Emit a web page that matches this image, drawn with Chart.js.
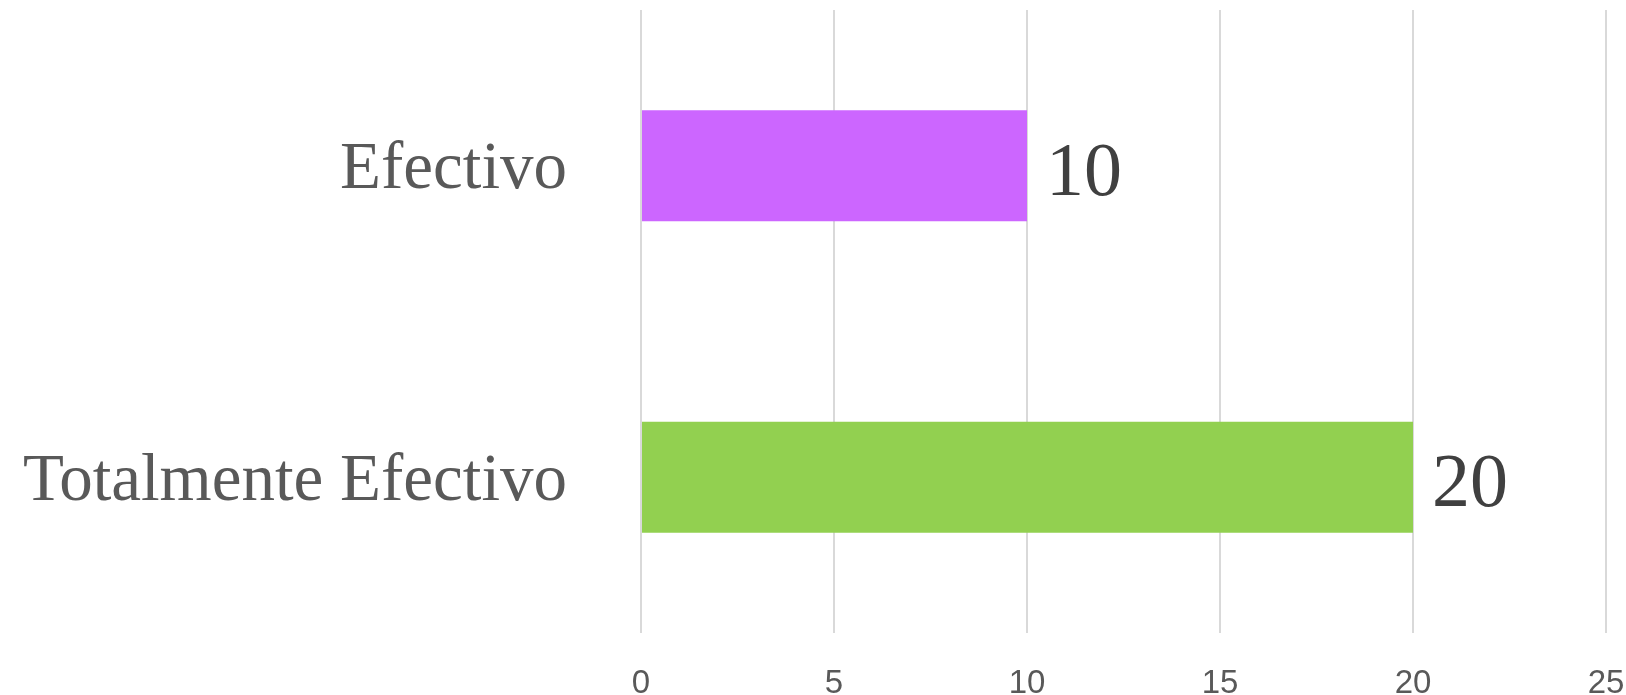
<!DOCTYPE html>
<html lang="es">
<head>
<meta charset="UTF-8">
<title>Efectividad</title>
<script src="https://cdn.jsdelivr.net/npm/chart.js@4.4.1/dist/chart.umd.min.js"></script>
<style>
  html, body { margin: 0; padding: 0; background: #fff; }
  #wrap { width: 1626px; height: 695px; }
</style>
</head>
<body>
<div id="wrap"><canvas id="bar_chart"></canvas></div>
<script>
// data
var categories = ['Efectivo', 'Totalmente Efectivo'];
var values = [10, 20];
var barColors = ['#CC66FF', '#92D050'];
var xTicks = [0, 5, 10, 15, 20, 25];

// value labels at the end of each bar
var valueLabels = {
  id: 'valueLabels',
  afterDatasetsDraw: function(chart) {
    var ctx = chart.ctx;
    var meta = chart.getDatasetMeta(0);
    ctx.save();
    ctx.font = '76px "Liberation Serif", serif';
    ctx.fillStyle = '#404040';
    ctx.textAlign = 'left';
    ctx.textBaseline = 'middle';
    meta.data.forEach(function(bar, i) {
      ctx.fillText(String(values[i]), bar.x + 19, bar.y + 9);
    });
    ctx.restore();
  }
};

new Chart(document.getElementById('bar_chart'), {
  type: 'bar',
  data: {
    labels: categories,
    datasets: [{
      data: values,
      backgroundColor: barColors,
      categoryPercentage: 1.0,
      barPercentage: 0.356
    }]
  },
  options: {
    indexAxis: 'y',
    responsive: true,
    maintainAspectRatio: false,
    animation: false,
    layout: { padding: { top: 10, right: 20, left: 0, bottom: 0 } },
    plugins: {
      legend: { display: false },
      tooltip: { enabled: false }
    },
    scales: {
      x: {
        min: 0,
        max: 25,
        afterBuildTicks: function(scale) {
          scale.ticks = xTicks.map(function(v) { return { value: v }; });
        },
        afterFit: function(scale) {
          scale.height = 62;
          scale.paddingLeft = 0;
          scale.paddingRight = 0;
        },
        grid: { color: '#D9D9D9', lineWidth: 2, drawTicks: false },
        border: { display: false },
        ticks: {
          padding: 31,
          color: '#595959',
          font: { family: '"Liberation Sans", sans-serif', size: 33 }
        }
      },
      y: {
        afterFit: function(scale) {
          scale.width = 641;
          scale.paddingTop = 0;
          scale.paddingBottom = 0;
        },
        grid: { display: false, drawTicks: false },
        border: { display: false },
        ticks: {
          padding: 74,
          labelOffset: 5,
          color: '#595959',
          font: { family: '"Liberation Serif", serif', size: 67 }
        }
      }
    }
  },
  plugins: [valueLabels]
});
</script>
</body>
</html>
